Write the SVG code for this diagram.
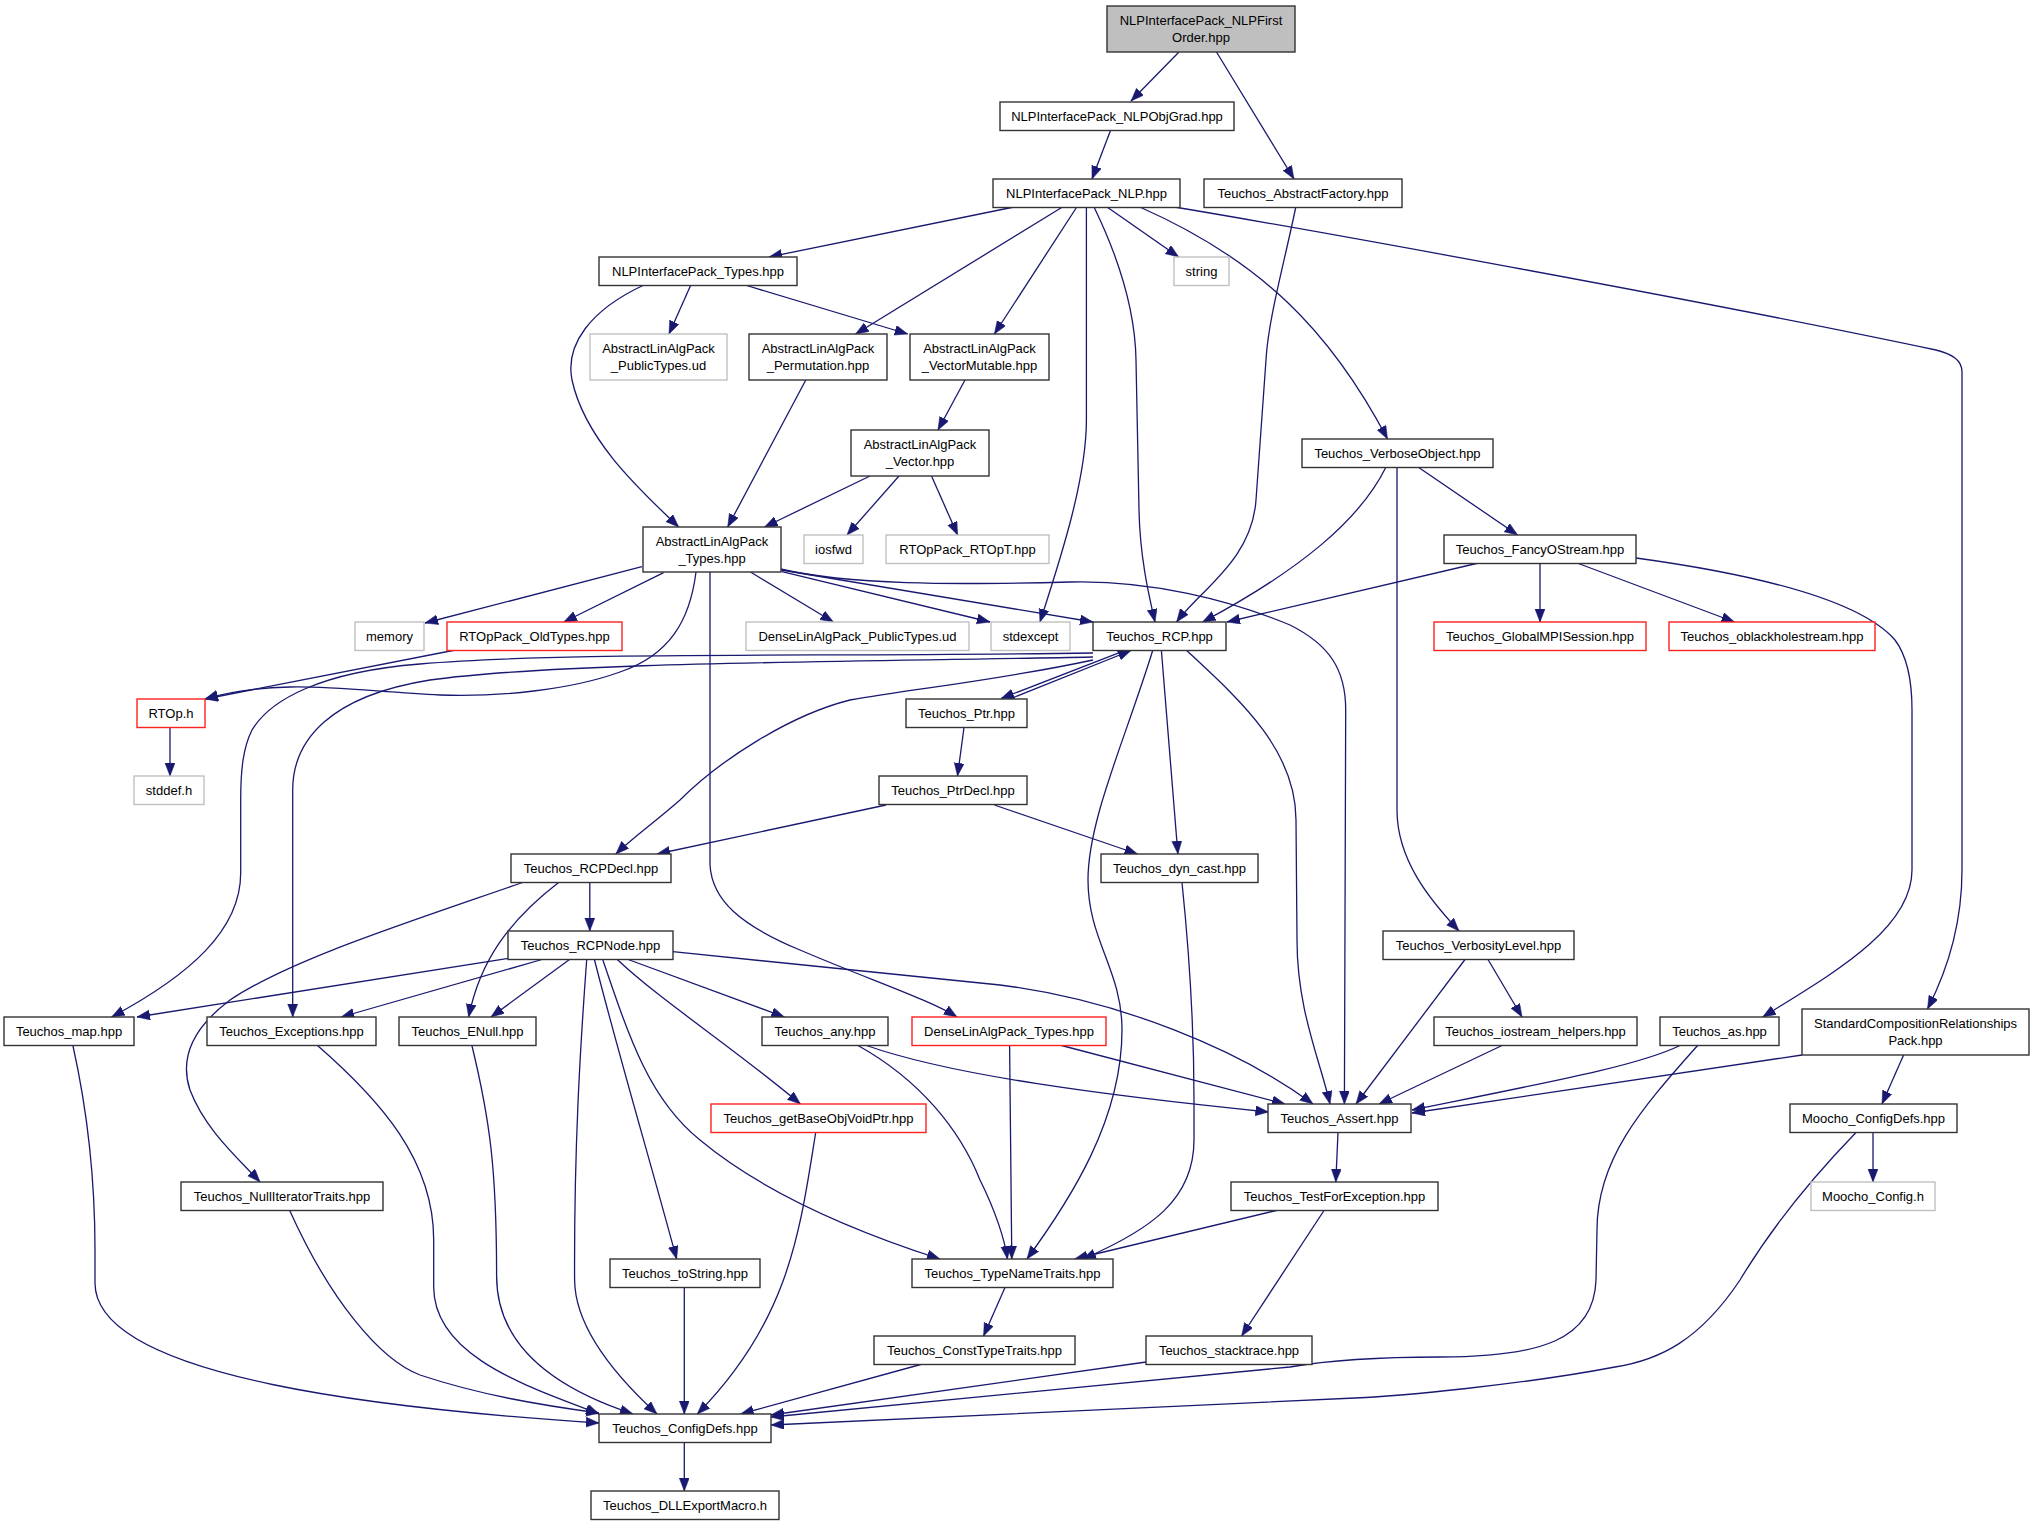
<svg xmlns="http://www.w3.org/2000/svg" width="2035" height="1525" viewBox="0 0 2035 1525">
<style>
.n rect{fill:#fff;stroke:#333;stroke-width:1.4}
.n.g rect{stroke:#c0c0c0}
.n.r rect{stroke:#ff2020}
.n.top rect{fill:#bfbfbf}
text{font-family:"Liberation Sans",Arial,Helvetica,sans-serif;font-size:13px;text-anchor:middle;fill:#000}
#edges path{fill:none;stroke:#191970;stroke-width:1.3;marker-end:url(#a)}
</style>
<defs>
<marker id="a" markerUnits="userSpaceOnUse" markerWidth="14" markerHeight="11" refX="13" refY="5" orient="auto"><path d="M0,0 L13,5 L0,10 z" fill="#191970" stroke="#191970" stroke-width="0.5"/></marker>
</defs>
<rect width="2035" height="1525" fill="#fff"/>
<g id="edges">
<path d="M1179,52 L1131,101"/>
<path d="M1216.5,52 L1294,179"/>
<path d="M1110.7,130 L1092,179"/>
<path d="M1014,207 L769,257"/>
<path d="M1062.5,207 L855.6,334"/>
<path d="M1076.8,207 L994.4,334"/>
<path d="M1086.4,207 L1086.4,420 C1086.4,480 1060,560 1040,622"/>
<path d="M1094,207 C1110,240 1135,300 1136,360 L1139,510 C1140,560 1150,600 1155,622"/>
<path d="M1107,207 L1178.7,257"/>
<path d="M1139.7,207 C1260,260 1330,330 1387.5,439"/>
<path d="M1174.4,207 C1300,228 1700,300 1936,350 C1952,354 1962,360 1962,372 L1962,870 C1962,930 1945,975 1927.5,1009"/>
<path d="M1295.8,207 C1285,260 1268,320 1266,360 L1256,500 C1252,560 1200,590 1176.6,622"/>
<path d="M690.8,285 L669,334"/>
<path d="M745,285 L907.7,334"/>
<path d="M644,285 C590,310 565,345 572,380 C585,440 640,490 678.7,527"/>
<path d="M805.8,380 L727.7,527"/>
<path d="M965,380 L938,430"/>
<path d="M870,476 L764.6,527"/>
<path d="M899,476 L847,535"/>
<path d="M931.5,476 L957.6,535"/>
<path d="M1386,467 C1360,520 1300,570 1202.6,622"/>
<path d="M1397,467 L1397,810 C1397,860 1430,900 1459,931"/>
<path d="M1418,467 L1517.6,535"/>
<path d="M1478.6,563 L1227,622"/>
<path d="M1540,563.5 L1540,622"/>
<path d="M1578.4,563.5 L1734.5,622"/>
<path d="M1636,558 C1760,575 1860,600 1895,640 C1910,660 1912,690 1912,710 L1912,870 C1912,930 1830,975 1762.7,1017"/>
<path d="M641.9,566.7 L425,623"/>
<path d="M663.6,572.7 L563.8,622"/>
<path d="M696,572 C690,620 670,655 620,672 C570,690 500,697 440,695 C380,692 330,686 290,687 C250,688 225,693 205,699"/>
<path d="M455.4,650 L205,699"/>
<path d="M1093,653 C800,657 560,652 420,664 C320,672 270,700 252,730 C243,748 240.7,770 240.7,800 L240.7,873 C240.7,930 190,975 111.6,1017"/>
<path d="M1093,657 C850,662 560,662 430,680 C330,696 292.7,740 292.7,790 L292.7,1017"/>
<path d="M1093,660 C1000,680 920,688 850,700 C790,715 720,760 680,800 C655,822 630,840 615.9,854"/>
<path d="M1122,651.7 L1001,698.5"/>
<path d="M1009.6,699 L1131,650.5"/>
<path d="M1161.4,650.5 L1177.9,854"/>
<path d="M1152.7,650.5 C1125,740 1088,820 1088,880 C1088,940 1122,970 1122,1030 C1122,1120 1070,1200 1027,1259"/>
<path d="M1186.6,650.5 C1240,700 1296,750 1296,820 L1297,940 C1297,1010 1320,1060 1330,1104"/>
<path d="M964,727.5 L957.5,776"/>
<path d="M886,805 L657,854"/>
<path d="M994.4,805 L1137.5,854"/>
<path d="M589.8,882.5 L589.8,931"/>
<path d="M558.6,882.5 C510,920 480,960 468.7,1017"/>
<path d="M522.6,882.5 C400,925 290,960 230,1000 C190,1030 180,1060 190,1090 C205,1130 240,1160 260,1182"/>
<path d="M508.3,958.3 L137,1017"/>
<path d="M542,959.5 L341.2,1017"/>
<path d="M569.5,959.5 L491,1017"/>
<path d="M586.7,959.5 C580,1050 574,1150 574.6,1280 C575,1330 620,1380 657,1414"/>
<path d="M594.4,959.5 C620,1060 650,1160 676.6,1259"/>
<path d="M602.7,959.5 C630,1040 650,1100 700,1140 C760,1190 850,1230 940,1259"/>
<path d="M617.3,959.5 C660,1000 730,1045 800.4,1104"/>
<path d="M628.2,959.5 L784.4,1017"/>
<path d="M672.8,951.7 L1000,985 C1120,1000 1240,1050 1313,1104"/>
<path d="M72.9,1045.5 C85,1100 95,1170 95,1250 L95,1283 C95,1380 400,1410 599,1423"/>
<path d="M289.7,1210.5 C330,1300 380,1360 420,1375 C480,1395 540,1405 599,1413"/>
<path d="M317.5,1045.5 C380,1100 433.7,1160 433.7,1240 L433.7,1287 C433.7,1360 540,1390 599,1414"/>
<path d="M471.9,1045.5 C490,1120 496.6,1170 496.6,1276 C496.6,1350 560,1390 633,1414"/>
<path d="M684.3,1287.5 L684.3,1414"/>
<path d="M815.7,1132.5 C800,1230 790,1320 697.3,1414"/>
<path d="M920.7,1364.5 L740.7,1414"/>
<path d="M1146.2,1362 L771,1415"/>
<path d="M1697.6,1045.5 C1640,1110 1597,1160 1597,1230 L1596,1280 C1594,1340 1540,1357 1440,1357 C1380,1357 1330,1360 1290,1367 L771,1417"/>
<path d="M1856,1132.5 C1810,1180 1770,1230 1740,1280 C1700,1340 1660,1360 1615,1367 C1520,1385 1400,1396 1355,1398 L771,1425"/>
<path d="M684.3,1442.5 L684.3,1491"/>
<path d="M858,1045.5 C920,1080 960,1130 980,1180 C995,1210 1005,1240 1007.4,1259"/>
<path d="M866.5,1045.5 C950,1075 1100,1095 1268.5,1112"/>
<path d="M1009.6,1045.5 L1011.8,1259"/>
<path d="M1061.6,1045.5 L1285,1104"/>
<path d="M1276.3,1210.5 L1074.7,1259"/>
<path d="M1324,1210.5 L1241.6,1336"/>
<path d="M1338,1132.5 L1335.8,1182"/>
<path d="M1005,1287.5 L983.6,1336"/>
<path d="M1182,882.5 C1190,960 1194,1040 1194,1100 L1194,1140 C1194,1200 1150,1230 1083,1259"/>
<path d="M1465,959.5 L1356,1104"/>
<path d="M1488,959.5 L1522,1017"/>
<path d="M1502,1045.5 L1379,1104"/>
<path d="M1680,1045.5 C1640,1065 1560,1080 1412,1110"/>
<path d="M1802,1055 L1412,1113"/>
<path d="M1903.6,1055 L1882,1104"/>
<path d="M1873,1132.5 L1873,1182"/>
<path d="M170,727.5 L170,776"/>
<path d="M750.5,572 L833.4,622"/>
<path d="M782,571.7 L990,622"/>
<path d="M781,570 L1093,622"/>
<path d="M780.6,569 C850,585 950,585 1070,582 C1150,580 1230,600 1290,625 C1330,645 1345.7,670 1345.7,710 L1344.4,1104"/>
<path d="M710,572 L710,865 C712,900 740,925 800,950 C870,980 930,1000 957,1017"/>
</g>
<g id="n_first" class="n top"><rect x="1107" y="6" width="188" height="46"/><text x="1201" y="24.5">NLPInterfacePack_NLPFirst</text><text x="1201" y="41.5">Order.hpp</text></g>
<g id="n_objgrad" class="n"><rect x="1000" y="102" width="234" height="28.5"/><text x="1117" y="121">NLPInterfacePack_NLPObjGrad.hpp</text></g>
<g id="n_nlp" class="n"><rect x="993" y="179" width="187" height="28.5"/><text x="1086.5" y="198">NLPInterfacePack_NLP.hpp</text></g>
<g id="n_absfact" class="n"><rect x="1204" y="179" width="198" height="28.5"/><text x="1303" y="198">Teuchos_AbstractFactory.hpp</text></g>
<g id="n_types" class="n"><rect x="599" y="257" width="198" height="28.5"/><text x="698" y="276">NLPInterfacePack_Types.hpp</text></g>
<g id="n_string" class="n g"><rect x="1174" y="257" width="55" height="28.5"/><text x="1201.5" y="276">string</text></g>
<g id="n_pubtypes" class="n g"><rect x="590" y="334" width="137" height="46"/><text x="658.5" y="352.5">AbstractLinAlgPack</text><text x="658.5" y="369.5">_PublicTypes.ud</text></g>
<g id="n_perm" class="n"><rect x="749" y="334" width="138" height="46"/><text x="818" y="352.5">AbstractLinAlgPack</text><text x="818" y="369.5">_Permutation.hpp</text></g>
<g id="n_vecmut" class="n"><rect x="910" y="334" width="139" height="46"/><text x="979.5" y="352.5">AbstractLinAlgPack</text><text x="979.5" y="369.5">_VectorMutable.hpp</text></g>
<g id="n_vec" class="n"><rect x="851" y="430" width="138" height="46"/><text x="920" y="448.5">AbstractLinAlgPack</text><text x="920" y="465.5">_Vector.hpp</text></g>
<g id="n_verbose" class="n"><rect x="1302" y="439" width="191" height="28.5"/><text x="1397.5" y="458">Teuchos_VerboseObject.hpp</text></g>
<g id="n_alatypes" class="n"><rect x="643" y="527" width="138" height="45"/><text x="712" y="545.5">AbstractLinAlgPack</text><text x="712" y="562.5">_Types.hpp</text></g>
<g id="n_iosfwd" class="n g"><rect x="804" y="535" width="59" height="28.5"/><text x="833.5" y="554">iosfwd</text></g>
<g id="n_rtopt" class="n g"><rect x="886" y="535" width="163" height="28.5"/><text x="967.5" y="554">RTOpPack_RTOpT.hpp</text></g>
<g id="n_fancy" class="n"><rect x="1444" y="535" width="192" height="28.5"/><text x="1540" y="554">Teuchos_FancyOStream.hpp</text></g>
<g id="n_memory" class="n g"><rect x="355" y="622" width="69" height="28.5"/><text x="389.5" y="641">memory</text></g>
<g id="n_oldtypes" class="n r"><rect x="447" y="622" width="175" height="28.5"/><text x="534.5" y="641">RTOpPack_OldTypes.hpp</text></g>
<g id="n_densepub" class="n g"><rect x="746" y="622" width="223" height="28.5"/><text x="857.5" y="641">DenseLinAlgPack_PublicTypes.ud</text></g>
<g id="n_stdexcept" class="n g"><rect x="991" y="622" width="79" height="28.5"/><text x="1030.5" y="641">stdexcept</text></g>
<g id="n_rcp" class="n"><rect x="1093" y="622" width="133" height="28.5"/><text x="1159.5" y="641">Teuchos_RCP.hpp</text></g>
<g id="n_mpi" class="n r"><rect x="1434" y="622" width="212" height="28.5"/><text x="1540" y="641">Teuchos_GlobalMPISession.hpp</text></g>
<g id="n_blackhole" class="n r"><rect x="1669" y="622" width="206" height="28.5"/><text x="1772" y="641">Teuchos_oblackholestream.hpp</text></g>
<g id="n_rtoph" class="n r"><rect x="137" y="699" width="68" height="28.5"/><text x="171" y="718">RTOp.h</text></g>
<g id="n_ptr" class="n"><rect x="906" y="699" width="121" height="28.5"/><text x="966.5" y="718">Teuchos_Ptr.hpp</text></g>
<g id="n_stddef" class="n g"><rect x="134" y="776" width="70" height="28.5"/><text x="169" y="795">stddef.h</text></g>
<g id="n_ptrdecl" class="n"><rect x="879" y="776" width="148" height="28.5"/><text x="953" y="795">Teuchos_PtrDecl.hpp</text></g>
<g id="n_rcpdecl" class="n"><rect x="511" y="854" width="160" height="28.5"/><text x="591" y="873">Teuchos_RCPDecl.hpp</text></g>
<g id="n_dyncast" class="n"><rect x="1101" y="854" width="157" height="28.5"/><text x="1179.5" y="873">Teuchos_dyn_cast.hpp</text></g>
<g id="n_rcpnode" class="n"><rect x="508" y="931" width="165" height="28.5"/><text x="590.5" y="950">Teuchos_RCPNode.hpp</text></g>
<g id="n_verbosity" class="n"><rect x="1383" y="931" width="191" height="28.5"/><text x="1478.5" y="950">Teuchos_VerbosityLevel.hpp</text></g>
<g id="n_map" class="n"><rect x="4" y="1017" width="130" height="28.5"/><text x="69" y="1036">Teuchos_map.hpp</text></g>
<g id="n_exceptions" class="n"><rect x="207" y="1017" width="169" height="28.5"/><text x="291.5" y="1036">Teuchos_Exceptions.hpp</text></g>
<g id="n_enull" class="n"><rect x="399" y="1017" width="137" height="28.5"/><text x="467.5" y="1036">Teuchos_ENull.hpp</text></g>
<g id="n_any" class="n"><rect x="762" y="1017" width="126" height="28.5"/><text x="825" y="1036">Teuchos_any.hpp</text></g>
<g id="n_densetypes" class="n r"><rect x="912" y="1017" width="194" height="28.5"/><text x="1009" y="1036">DenseLinAlgPack_Types.hpp</text></g>
<g id="n_iohelpers" class="n"><rect x="1434" y="1017" width="203" height="28.5"/><text x="1535.5" y="1036">Teuchos_iostream_helpers.hpp</text></g>
<g id="n_as" class="n"><rect x="1660" y="1017" width="119" height="28.5"/><text x="1719.5" y="1036">Teuchos_as.hpp</text></g>
<g id="n_stdcomp" class="n"><rect x="1802" y="1009" width="227" height="46"/><text x="1915.5" y="1027.5">StandardCompositionRelationships</text><text x="1915.5" y="1044.5">Pack.hpp</text></g>
<g id="n_getbase" class="n r"><rect x="711" y="1104" width="215" height="28.5"/><text x="818.5" y="1123">Teuchos_getBaseObjVoidPtr.hpp</text></g>
<g id="n_assert" class="n"><rect x="1268" y="1104" width="143" height="28.5"/><text x="1339.5" y="1123">Teuchos_Assert.hpp</text></g>
<g id="n_moochodefs" class="n"><rect x="1790" y="1104" width="167" height="28.5"/><text x="1873.5" y="1123">Moocho_ConfigDefs.hpp</text></g>
<g id="n_nulliter" class="n"><rect x="181" y="1182" width="202" height="28.5"/><text x="282" y="1201">Teuchos_NullIteratorTraits.hpp</text></g>
<g id="n_testfor" class="n"><rect x="1231" y="1182" width="207" height="28.5"/><text x="1334.5" y="1201">Teuchos_TestForException.hpp</text></g>
<g id="n_moochoconfig" class="n g"><rect x="1811" y="1182" width="124" height="28.5"/><text x="1873" y="1201">Moocho_Config.h</text></g>
<g id="n_tostring" class="n"><rect x="610" y="1259" width="150" height="28.5"/><text x="685" y="1278">Teuchos_toString.hpp</text></g>
<g id="n_typename" class="n"><rect x="912" y="1259" width="201" height="28.5"/><text x="1012.5" y="1278">Teuchos_TypeNameTraits.hpp</text></g>
<g id="n_consttype" class="n"><rect x="874" y="1336" width="201" height="28.5"/><text x="974.5" y="1355">Teuchos_ConstTypeTraits.hpp</text></g>
<g id="n_stacktrace" class="n"><rect x="1146" y="1336" width="166" height="28.5"/><text x="1229" y="1355">Teuchos_stacktrace.hpp</text></g>
<g id="n_configdefs" class="n"><rect x="599" y="1414" width="172" height="28.5"/><text x="685" y="1433">Teuchos_ConfigDefs.hpp</text></g>
<g id="n_dll" class="n"><rect x="591" y="1491" width="188" height="28.5"/><text x="685" y="1510">Teuchos_DLLExportMacro.h</text></g>
</svg>
